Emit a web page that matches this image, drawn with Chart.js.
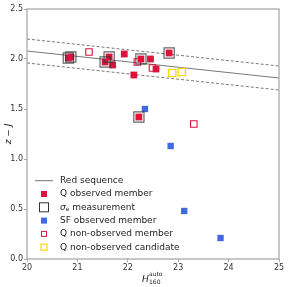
<!DOCTYPE html>
<html>
<head>
<meta charset="utf-8">
<script src="https://cdn.jsdelivr.net/npm/chart.js@4/dist/chart.umd.min.js"></script>
<style>
html,body{margin:0;padding:0;background:#fff;}
#c{display:block;}
</style>
</head>
<body>
<canvas id="c" width="299" height="287"></canvas>
<script>
// ---- data ----
const qObsX = [20.82, 20.87, 21.55, 21.63, 21.70, 21.93, 22.12, 22.22, 22.26, 22.45, 22.56, 22.82];
const qObsY = [2.01, 2.02, 1.97, 2.02, 1.94, 2.05, 1.84, 1.42, 2.00, 2.00, 1.90, 2.06];
const sigmaX = [20.82, 20.87, 21.55, 21.63, 22.22, 22.26, 22.82];
const sigmaY = [2.01, 2.02, 1.97, 2.02, 1.42, 2.00, 2.06];
const sfX = [22.34, 22.85, 23.12, 23.84];
const sfY = [1.50, 1.13, 0.48, 0.21];
const qNonX = [21.23, 22.19, 22.49, 23.31];
const qNonY = [2.07, 1.97, 1.91, 1.35];
const candX = [22.88, 23.07];
const candY = [1.86, 1.87];
const rsX = [20, 25];
const rsY = [2.08, 1.81];
const rsUpperY = [2.20, 1.93];
const rsLowerY = [1.96, 1.69];
const xTicks = [20, 21, 22, 23, 24, 25];
const yTicks = [0.0, 0.5, 1.0, 1.5, 2.0, 2.5];
const legendLabels = ['Red sequence', 'Q observed member', 'σe measurement', 'SF observed member', 'Q non-observed member', 'Q non-observed candidate'];

const pts = (xs, ys) => xs.map((x, i) => ({x: x, y: ys[i]}));

const CRIMSON = '#DC143C';
const BLUE = '#4169E1';
const GOLD = '#FFD700';
const FONT = 'DejaVu Sans';

const framePlugin = {
  id: 'frame',
  afterDatasetsDraw(chart) {
    const {ctx, chartArea: a} = chart;
    ctx.save();
    ctx.strokeStyle = '#aaaaaa';
    ctx.lineWidth = 1.3;
    ctx.strokeRect(a.left, a.top, a.right - a.left, a.bottom - a.top);
    ctx.restore();
  }
};

const titlesPlugin = {
  id: 'titles',
  afterDraw(chart) {
    const ctx = chart.ctx;
    ctx.save();
    ctx.fillStyle = '#222';
    ctx.textBaseline = 'alphabetic';
    ctx.textAlign = 'left';
    ctx.font = 'italic 9px ' + FONT;
    ctx.fillText('H', 142, 282);
    ctx.font = '6px ' + FONT;
    ctx.fillText('auto', 149, 276);
    ctx.fillText('160', 149, 284);
    // y title
    ctx.translate(9, 134);
    ctx.rotate(-Math.PI / 2);
    ctx.textAlign = 'center';
    ctx.textBaseline = 'middle';
    ctx.font = 'italic 9px ' + FONT;
    ctx.fillText('z − J', 0, 0);
    ctx.restore();
  }
};

const legendPlugin = {
  id: 'legendInside',
  afterDraw(chart) {
    const ctx = chart.ctx;
    const sx = 44, tx = 60, y0 = 180.7, dy = 13.3;
    ctx.save();
    ctx.font = '9px ' + FONT;
    ctx.textBaseline = 'middle';
    ctx.textAlign = 'left';
    legendLabels.forEach((lab, i) => {
      const y = y0 + i * dy;
      ctx.save();
      if (i === 0) {
        ctx.strokeStyle = '#777';
        ctx.lineWidth = 1;
        ctx.beginPath(); ctx.moveTo(35, y); ctx.lineTo(53, y); ctx.stroke();
      } else if (i === 1) {
        ctx.fillStyle = CRIMSON; ctx.fillRect(sx - 3, y - 3, 6, 6);
      } else if (i === 2) {
        ctx.strokeStyle = '#333'; ctx.lineWidth = 1; ctx.strokeRect(sx - 4.5, y - 4.5, 9, 9);
      } else if (i === 3) {
        ctx.fillStyle = BLUE; ctx.fillRect(sx - 3, y - 3, 6, 6);
      } else if (i === 4) {
        ctx.strokeStyle = CRIMSON; ctx.lineWidth = 1; ctx.strokeRect(sx - 2.5, y - 2.5, 5, 5);
      } else {
        ctx.strokeStyle = GOLD; ctx.lineWidth = 1.2; ctx.strokeRect(sx - 3, y - 3, 6, 6);
      }
      ctx.restore();
      ctx.fillStyle = '#222';
      if (i === 2) {
        ctx.font = 'italic 9px ' + FONT;
        ctx.fillText('σ', tx, y);
        const w = ctx.measureText('σ').width;
        ctx.font = '6px ' + FONT;
        ctx.fillText('e', tx + w, y + 2.5);
        const w2 = ctx.measureText('e').width;
        ctx.font = '9px ' + FONT;
        ctx.fillText(' measurement', tx + w + w2, y);
      } else {
        ctx.fillText(lab, tx, y);
      }
    });
    ctx.restore();
  }
};

new Chart(document.getElementById('c'), {
  type: 'scatter',
  data: {
    datasets: [
      {label: 'sigma', data: pts(sigmaX, sigmaY), pointStyle: 'rect', pointRadius: 7.2, borderColor: 'rgba(50,50,50,0.75)', borderWidth: 1.2, backgroundColor: 'rgba(0,0,0,0)', order: 1},
      {label: 'qnon', data: pts(qNonX, qNonY), pointStyle: 'rect', pointRadius: 4.6, borderColor: CRIMSON, borderWidth: 1.1, backgroundColor: 'rgba(0,0,0,0)', order: 2},
      {label: 'cand', data: pts(candX, candY), pointStyle: 'rect', pointRadius: 5.2, borderColor: GOLD, borderWidth: 1.3, backgroundColor: 'rgba(0,0,0,0)', order: 2},
      {label: 'qobs', data: pts(qObsX, qObsY), pointStyle: 'rect', pointRadius: 4.8, borderWidth: 0, backgroundColor: CRIMSON, order: 3},
      {label: 'sf', data: pts(sfX, sfY), pointStyle: 'rect', pointRadius: 4.5, borderWidth: 0, backgroundColor: BLUE, order: 3},
      {label: 'rs', data: pts(rsX, rsY), showLine: true, pointRadius: 0, borderColor: '#777', borderWidth: 1, order: 5},
      {label: 'rsU', data: pts(rsX, rsUpperY), showLine: true, pointRadius: 0, borderColor: '#777', borderWidth: 1, borderDash: [3, 2], order: 5},
      {label: 'rsL', data: pts(rsX, rsLowerY), showLine: true, pointRadius: 0, borderColor: '#777', borderWidth: 1, borderDash: [3, 2], order: 5}
    ]
  },
  options: {
    responsive: false,
    animation: false,
    layout: {padding: {left: 0, right: 20, top: 9, bottom: 0}},
    plugins: {legend: {display: false}, tooltip: {enabled: false}},
    scales: {
      x: {
        type: 'linear', min: 20, max: 25,
        afterBuildTicks: s => { s.ticks = xTicks.map(v => ({value: v})); },
        afterFit: s => { s.height = 28; },
        grid: {display: true, drawOnChartArea: false, tickLength: 3, color: '#aaa'},
        border: {display: false},
        ticks: {color: '#333', font: {family: FONT, size: 8}, padding: 1, maxRotation: 0, callback: v => String(v)}
      },
      y: {
        type: 'linear', min: 0, max: 2.5,
        afterBuildTicks: s => { s.ticks = yTicks.map(v => ({value: v})); },
        afterFit: s => { s.width = 27; },
        grid: {display: true, drawOnChartArea: false, tickLength: 3, color: '#aaa'},
        border: {display: false},
        ticks: {color: '#333', font: {family: FONT, size: 8}, padding: 1, callback: v => Number(v).toFixed(1)}
      }
    }
  },
  plugins: [framePlugin, titlesPlugin, legendPlugin]
});
</script>
</body>
</html>
